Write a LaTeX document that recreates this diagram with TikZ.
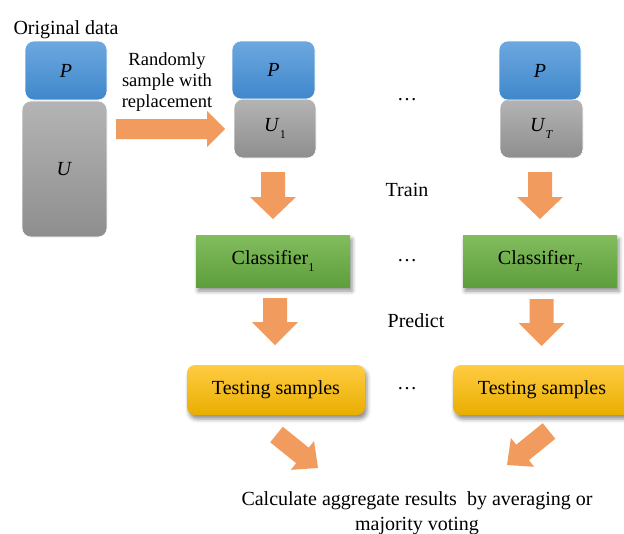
\documentclass[tikz,border=0pt]{standalone}
\usepackage{fontspec}
\setmainfont{Liberation Serif}
\usetikzlibrary{calc,shadows.blur}

\definecolor{arrowc}{HTML}{F29B5E}
\definecolor{blueT}{HTML}{6DA8E0}
\definecolor{blueB}{HTML}{3F87CB}
\definecolor{grayT}{HTML}{B4B4B4}
\definecolor{grayB}{HTML}{8E8E8E}
\definecolor{greenT}{HTML}{82BD5E}
\definecolor{greenB}{HTML}{5E9E3C}
\definecolor{yellowT}{HTML}{FFCC42}
\definecolor{yellowB}{HTML}{E9AE00}

% lowered small index after a symbol
\newcommand\lowidx[1]{\raisebox{-0.32em}{\fontsize{12}{12}\selectfont #1}}

% block arrow: #1 tail, #2 tip, #3 half shaft width, #4 half head width, #5 head length
\newcommand\fatarrow[5]{%
  \coordinate (#1-#2-h) at ($(#2)!#5!(#1)$);
  \fill[arrowc] ($(#1)!#3!90:(#2)$) -- ($(#1-#2-h)!#3!-90:(#1)$)
    -- ($(#1-#2-h)!#4!-90:(#1)$) -- (#2)
    -- ($(#1-#2-h)!#4!90:(#1)$) -- ($(#1-#2-h)!#3!90:(#1)$)
    -- ($(#1)!#3!-90:(#2)$) -- cycle;
}

\tikzset{
  txt/.style={font=\fontsize{20}{24}\selectfont, inner sep=0pt},
  databox/.style={rounded corners=9pt, draw=white, line width=0.6pt,
    inner sep=0pt, font=\fontsize{20}{24}\selectfont},
  pbox/.style={databox, top color=blueT, bottom color=blueB},
  ubox/.style={databox, top color=grayT, bottom color=grayB},
  softshadow/.style={blur shadow={shadow xshift=2pt, shadow yshift=-4pt,
    shadow blur radius=4pt, shadow opacity=45}},
  clsbox/.style={softshadow, top color=greenT, bottom color=greenB,
    minimum width=154pt, minimum height=52pt, inner sep=0pt,
    font=\fontsize{20}{24}\selectfont},
  testbox/.style={softshadow, rounded corners=8pt, top color=yellowT,
    bottom color=yellowB, minimum width=178pt, minimum height=50pt,
    inner sep=0pt, font=\fontsize{20}{24}\selectfont},
}

\begin{document}
\begin{tikzpicture}[x=1pt, y=-1pt]
\useasboundingbox (0,0) rectangle (624,533);
\clip (0,0) rectangle (624,533);

% original data
\node[txt, anchor=base] (orig) at (66,34) {Original data};
\node[ubox, minimum width=85pt, minimum height=136pt] (u0) at (64.5,169) {\textit{U}};
\node[pbox, minimum width=82pt, minimum height=59pt] (p0) at (66,70.5) {\textit{P}};

% bootstrap sample 1
\node[ubox, minimum width=82pt, minimum height=59pt] (u1) at (275,128.5) {\textit{U}\lowidx{1}};
\node[pbox, minimum width=83pt, minimum height=58pt] (p1) at (273.5,70) {\textit{P}};

% bootstrap sample T
\node[ubox, minimum width=83pt, minimum height=59pt] (uT) at (541.5,128.5) {\textit{U}\lowidx{\textit{T}}};
\node[pbox, minimum width=82pt, minimum height=59pt] (pT) at (540,70.5) {\textit{P}};

\node[txt, align=center, font=\fontsize{18.5}{21}\selectfont] (samp) at (167,81.7)
  {Randomly\\sample with\\replacement};

% classifiers
\node[clsbox] (c1) at (273,261) {Classifier\lowidx{1}};
\node[clsbox] (cT) at (540,261) {Classifier\lowidx{\textit{T}}};

% testing samples
\node[testbox] (t1) at (276,390) {Testing samples};
\node[testbox] (tT) at (542,390) {Testing samples};

% labels between the columns
\node[txt, anchor=base] (dots1) at (407,100) {\textellipsis};
\node[txt, anchor=base] (train) at (407,196) {Train};
\node[txt, anchor=base] (dots2) at (407,261) {\textellipsis};
\node[txt, anchor=base] (pred) at (416,327) {Predict};
\node[txt, anchor=base] (dots3) at (407,389) {\textellipsis};

\node[txt, align=center, font=\fontsize{20}{25}\selectfont] (agg) at (417,512.9)
  {Calculate aggregate results\ \ by averaging or\\majority voting};

% block arrows
\coordinate (s0) at (116,129);  \coordinate (s1) at (225,129);
\coordinate (a1) at (273,172);  \coordinate (b1) at (273,219);
\coordinate (aT) at (540,172);  \coordinate (bT) at (540,219);
\coordinate (d1) at (275,298);  \coordinate (e1) at (275,345);
\coordinate (dT) at (541.5,299);\coordinate (eT) at (541.5,346);
\coordinate (g1) at (276.5,434.5); \coordinate (h1) at (318,468);
\coordinate (gT) at (549,431);  \coordinate (hT) at (507,465);

\fatarrow{s0}{s1}{10pt}{18pt}{18pt}
\fatarrow{a1}{b1}{12pt}{23pt}{22pt}
\fatarrow{aT}{bT}{12pt}{23pt}{22pt}
\fatarrow{d1}{e1}{12pt}{23pt}{23pt}
\fatarrow{dT}{eT}{12pt}{23pt}{23pt}
\fatarrow{g1}{h1}{10pt}{18.5pt}{20pt}
\fatarrow{gT}{hT}{10pt}{18.5pt}{20pt}
\end{tikzpicture}
\end{document}
